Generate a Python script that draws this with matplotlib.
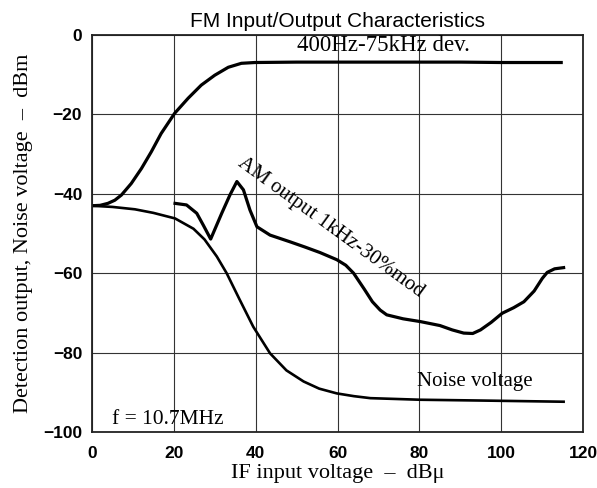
import matplotlib
matplotlib.use("Agg")
import matplotlib.pyplot as plt

# FM detection output, 400Hz-75kHz dev.
fm_x = [0, 2, 3.9, 5.6, 7.2, 9.6, 12.1, 14.5, 16.9, 20.2, 23.5, 26.7, 30, 33.3, 36.5, 39.8,
        50, 60, 70, 80, 90, 100, 110, 115]
fm_y = [-43.0, -42.9, -42.4, -41.6, -40.3, -37.4, -33.6, -29.4, -24.8, -19.7, -15.9, -12.6, -10.1, -8.1, -7.1, -6.9,
        -6.8, -6.8, -6.8, -6.8, -6.8, -6.9, -6.9, -6.9]

# AM output 1kHz-30%mod
am_x = [20.3, 23.1, 25.6, 27.2, 29.0, 31.7, 33.7, 35.4, 37.0, 38.6, 40.3, 43.5, 48.4, 52, 55.7, 59.8, 62, 63.9,
        66.5, 68.5, 70.4, 72, 76, 80.2, 85, 88, 90.8, 93, 94.9, 97.5, 100.2, 103, 105.5, 108, 110, 111.2, 113, 115.2]
am_y = [-42.4, -42.8, -44.9, -47.9, -51.4, -44.9, -40.3, -36.9, -39.0, -44.1, -48.3, -50.4, -52.1, -53.4, -54.8, -56.6,
        -58.0, -60.0, -64.0, -67.2, -69.3, -70.5, -71.5, -72.2, -73.2, -74.3, -75.1, -75.2, -74.3, -72.4, -70.1,
        -68.7, -67.2, -64.5, -61.3, -59.8, -58.9, -58.6]

# Noise voltage
nz_x = [0, 5, 10.5, 15, 20.3, 24.8, 27.5, 30.5, 32.9, 36, 39.4, 43.5, 47.5, 51.7, 55.5, 59.8, 64, 68, 80.2, 95, 115.2]
nz_y = [-43.0, -43.3, -43.9, -44.8, -46.2, -48.8, -51.5, -55.8, -60.0, -66.5, -73.5, -80.2, -84.5, -87.3, -89.1,
        -90.3, -91.0, -91.5, -91.9, -92.1, -92.4]

x_ticks = [0, 20, 40, 60, 80, 100, 120]
y_ticks = [0, -20, -40, -60, -80, -100]
y_ticklabels = ['0', '\u221220', '\u221240', '\u221260', '\u221280', '\u2212100']

serif = 'Liberation Serif'
sans = 'Liberation Sans'

fig = plt.figure(figsize=(5.97, 4.88), dpi=100)
ax = fig.add_axes([0.154, 0.115, 0.823, 0.813])

ax.plot(fm_x, fm_y, color='black', lw=2.3, solid_capstyle='butt', solid_joinstyle='round')
ax.plot(am_x, am_y, color='black', lw=2.3, solid_joinstyle='round')
ax.plot(nz_x, nz_y, color='black', lw=1.9, solid_joinstyle='round')

ax.set_xlim(0, 120)
ax.set_ylim(-100, 0)
ax.set_xticks(x_ticks)
ax.set_yticks(y_ticks)
ax.set_yticklabels(y_ticklabels)
ax.grid(True, color='#333333', lw=0.8)
ax.set_axisbelow(True)
ax.tick_params(length=0, labelsize=12.5, pad=7)
ax.tick_params(axis='x', pad=10)
for lab in ax.get_xticklabels() + ax.get_yticklabels():
    lab.set_fontfamily(sans)
    lab.set_fontweight('bold')
for s in ax.spines.values():
    s.set_linewidth(1.3)
    s.set_color('#222222')

ax.set_title('FM Input/Output Characteristics', fontfamily=sans, fontsize=15, pad=6)
ax.set_xlabel('IF input voltage  \u2013  dB\u03bc', fontfamily=serif, fontsize=16, labelpad=2)
ax.set_ylabel('Detection output, Noise voltage  \u2013  dBm', fontfamily=serif, fontsize=16, labelpad=7)

ax.text(50.1, -2.6, '400Hz-75kHz dev.', fontfamily=serif, fontsize=16.5, va='center', ha='left')
ax.text(58.2, -48.6, 'AM output 1kHz-30%mod', fontfamily=serif, fontsize=15, va='center', ha='center',
        rotation=-36, rotation_mode='anchor')
ax.text(79.4, -87.4, 'Noise voltage', fontfamily=serif, fontsize=15, va='center', ha='left')
ax.text(4.9, -97, 'f = 10.7MHz', fontfamily=serif, fontsize=15.5, va='center', ha='left')

fig.savefig('out.png', dpi=100, facecolor='white')
